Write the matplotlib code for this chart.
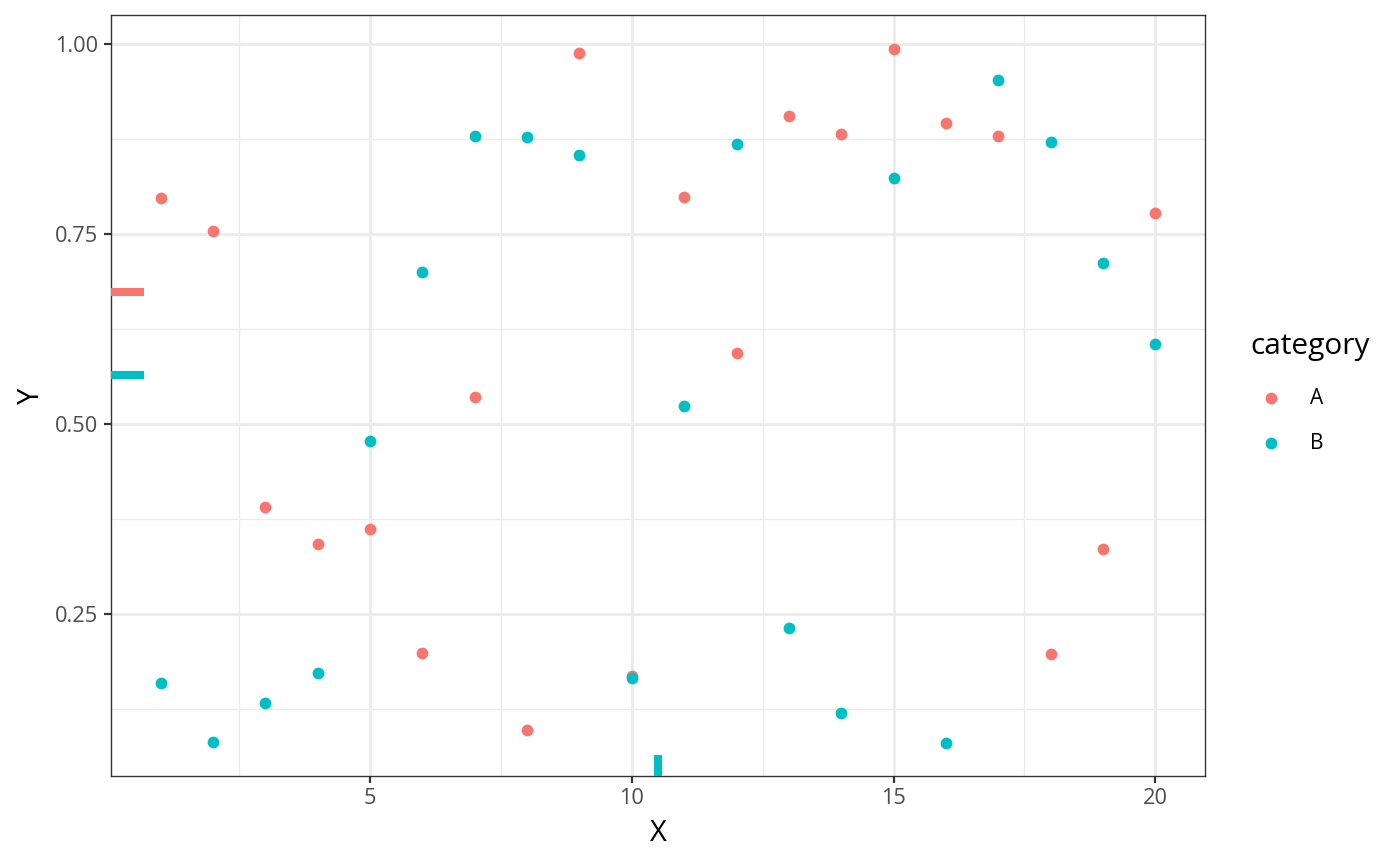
import numpy as np
import matplotlib
matplotlib.use("Agg")
import matplotlib.pyplot as plt
import matplotlib.transforms as mtransforms

plt.rcParams['font.family'] = ['Open Sans', 'DejaVu Sans']

x = list(range(1, 21))
y_A = [0.797, 0.754, 0.391, 0.342, 0.362, 0.199, 0.536, 0.097, 0.988, 0.168,
       0.799, 0.593, 0.905, 0.882, 0.993, 0.896, 0.879, 0.197, 0.336, 0.778]
y_B = [0.159, 0.082, 0.133, 0.172, 0.478, 0.700, 0.879, 0.878, 0.854, 0.166,
       0.524, 0.868, 0.232, 0.120, 0.824, 0.080, 0.953, 0.871, 0.712, 0.605]
categories = ['A', 'B']
colors = {'A': '#F8766D', 'B': '#00BFC4'}
series = {'A': y_A, 'B': y_B}

W, H = 1400, 866
fig = plt.figure(figsize=(W / 100, H / 100), dpi=100)
ax = fig.add_axes([111 / W, (H - 776) / H, 1094 / W, 761 / H])

for c in categories:
    ax.scatter(x, series[c], s=72, color=colors[c], linewidths=0, zorder=3, label=c)

# rug of medians
tl = mtransforms.blended_transform_factory(ax.transAxes, ax.transData)
tb = mtransforms.blended_transform_factory(ax.transData, ax.transAxes)
for c in categories:
    my = np.median(series[c])
    mx = np.median(x)
    ax.plot([0, 0.03], [my, my], transform=tl, color=colors[c], lw=5.8,
            solid_capstyle='butt', zorder=4, clip_on=False)
    ax.plot([mx, mx], [0, 0.028], transform=tb, color=colors[c], lw=5.8,
            solid_capstyle='butt', zorder=4, clip_on=False)

xmin, xmax = min(x), max(x)
ax.set_xlim(xmin - 0.05 * (xmax - xmin), xmax + 0.05 * (xmax - xmin))
ax.set_ylim(0.037, 1.038)

ax.set_xticks([5, 10, 15, 20])
ax.set_xticks([2.5, 7.5, 12.5, 17.5], minor=True)
ax.set_yticks([0.25, 0.5, 0.75, 1.0])
ax.set_yticklabels(['0.25', '0.50', '0.75', '1.00'])
ax.set_yticks([0.125, 0.375, 0.625, 0.875], minor=True)

ax.grid(which='major', color='#EBEBEB', lw=2.0, zorder=0)
ax.grid(which='minor', color='#EBEBEB', lw=1.0, zorder=0)
ax.set_axisbelow(True)
for s in ax.spines.values():
    s.set_color('#333333')
    s.set_linewidth(1.0)
ax.tick_params(which='major', length=5, width=1.6, color='#333333',
               labelsize=15.7, labelcolor='#4D4D4D', pad=4)
ax.tick_params(which='minor', length=0)

ax.set_xlabel('X', fontsize=21, color='black', labelpad=7)
ax.set_ylabel('Y', fontsize=21, color='black', labelpad=7)

leg = fig.legend(loc='center left', bbox_to_anchor=(1250 / W, 1 - 393 / H),
                 frameon=False, title='category', fontsize=15,
                 title_fontsize=21.5, handlelength=2.0, handletextpad=0.9,
                 labelspacing=1.15, markerscale=1.0, borderaxespad=0,
                 borderpad=0)
leg._legend_box.align = 'left'
leg._legend_box.sep = 19

fig.savefig('out.png', dpi=100)
